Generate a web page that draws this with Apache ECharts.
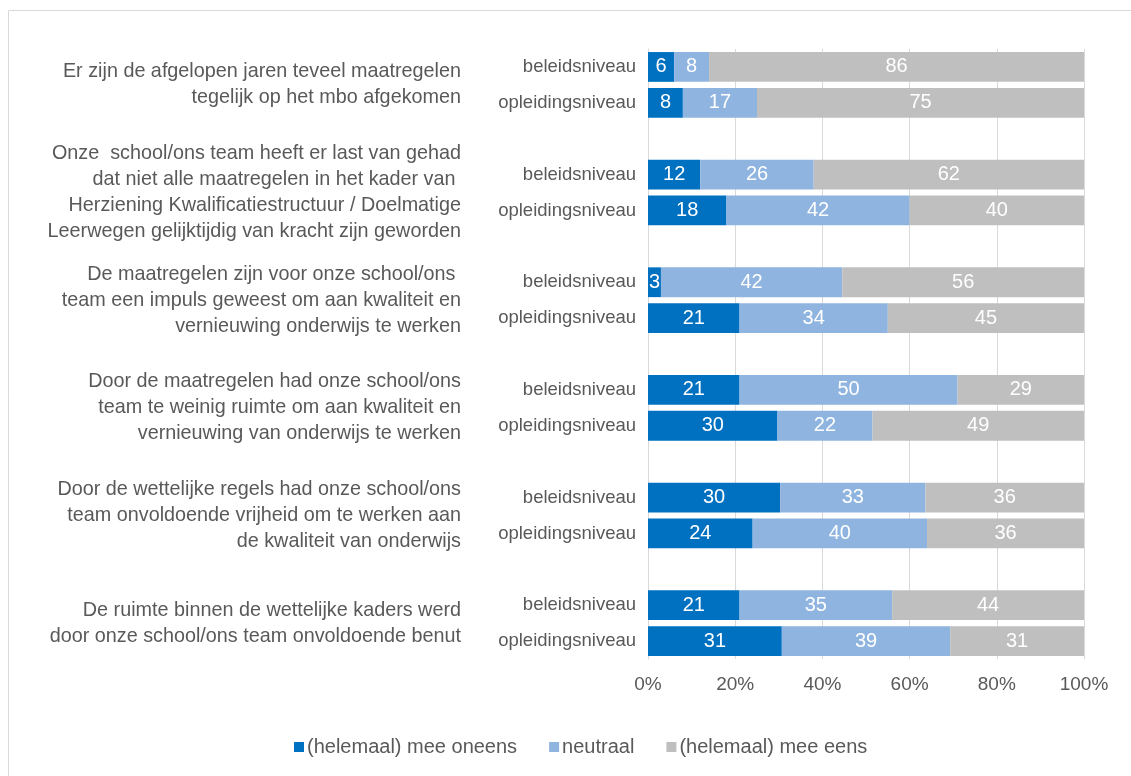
<!DOCTYPE html>
<html>
<head>
<meta charset="utf-8">
<script src="https://cdn.jsdelivr.net/npm/echarts@6/dist/echarts.min.js"></script>
<style>
  html, body { margin: 0; padding: 0; background: #fff; }
  #chart { width: 1131px; height: 776px; }
</style>
</head>
<body>
<div id="chart"></div>
<script>
// stellingen (groepen), per groep twee niveaus
const groupLabels = [
  'Er zijn de afgelopen jaren teveel maatregelen\ntegelijk op het mbo afgekomen',
  'Onze  school/ons team heeft er last van gehad\ndat niet alle maatregelen in het kader van \nHerziening Kwalificatiestructuur / Doelmatige\nLeerwegen gelijktijdig van kracht zijn geworden',
  'De maatregelen zijn voor onze school/ons \nteam een impuls geweest om aan kwaliteit en\nvernieuwing onderwijs te werken',
  'Door de maatregelen had onze school/ons\nteam te weinig ruimte om aan kwaliteit en\nvernieuwing van onderwijs te werken',
  'Door de wettelijke regels had onze school/ons\nteam onvoldoende vrijheid om te werken aan\nde kwaliteit van onderwijs',
  'De ruimte binnen de wettelijke kaders werd\ndoor onze school/ons team onvoldoende benut'
]
const levels = ['beleidsniveau', 'opleidingsniveau']
const seriesNames = ['(helemaal) mee oneens', 'neutraal', '(helemaal) mee eens']

// waarden per balk: groep1 beleid, groep1 opleiding, groep2 beleid, ...
const oneens = [6, 8, 12, 18, 3, 21, 21, 30, 30, 24, 21, 31]
const neutraal = [8, 17, 26, 42, 42, 34, 50, 22, 33, 40, 35, 39]
const eens = [86, 75, 62, 40, 56, 45, 29, 49, 36, 36, 44, 31]

const xTicks = [0, 20, 40, 60, 80, 100]

// categorieen met een lege rij tussen de groepen
const categories = []
const slotOf = []
groupLabels.forEach((g, gi) => {
  levels.forEach((l) => {
    slotOf.push(categories.length)
    categories.push(l)
  })
  if (gi < groupLabels.length - 1) categories.push('')
})
// 100% gestapeld: elke balk schalen naar zijn totaal, label toont het getal
const totals = oneens.map((v, i) => v + neutraal[i] + eens[i])
function withGaps(values) {
  const arr = categories.map(() => '-')
  values.forEach((v, i) => {
    arr[slotOf[i]] = { value: v / totals[i] * 100, raw: v }
  })
  return arr
}
const groupCentres = groupLabels.map((g, gi) => gi * 3 + 0.5)

const textColor = '#595959'
const colors = ['#0070C0', '#8FB4E0', '#BFBFBF']
const font = 'Liberation Sans'

const option = {
  animation: false,
  textStyle: { fontFamily: font },
  graphic: [
    {
      type: 'rect',
      shape: { x: 8.5, y: 10.5, width: 1300, height: 900 },
      style: { fill: 'none', stroke: '#D9D9D9', lineWidth: 1 },
      silent: true
    }
  ],
  grid: {
    left: 648,
    right: 47,
    top: 49,
    bottom: 117
  },
  legend: {
    left: 289,
    top: 732,
    itemWidth: 10,
    itemHeight: 10,
    itemGap: 32,
    icon: 'rect',
    textStyle: { color: textColor, fontSize: 20, fontFamily: font, padding: [0, 0, 0, -2] },
    data: seriesNames
  },
  xAxis: {
    type: 'value',
    min: 0,
    max: 100,
    interval: 20,
    axisLine: { show: false },
    axisTick: { show: false },
    splitLine: { lineStyle: { color: '#D9D9D9' } },
    axisLabel: {
      color: textColor,
      fontSize: 19,
      margin: 16,
      formatter: (v) => xTicks.includes(v) ? v + '%' : ''
    }
  },
  yAxis: [
    {
      type: 'category',
      inverse: true,
      data: categories,
      axisLine: { show: true, lineStyle: { color: '#D9D9D9' } },
      axisTick: { show: false },
      axisLabel: {
        interval: 0,
        color: textColor,
        fontSize: 18.5,
        margin: 12
      }
    },
    {
      type: 'value',
      inverse: true,
      position: 'left',
      min: -0.5,
      max: categories.length - 0.5,
      offset: 179,
      axisLine: { show: false },
      axisTick: { show: false },
      splitLine: { show: false },
      axisLabel: {
        customValues: groupCentres,
        color: textColor,
        fontSize: 19.8,
        lineHeight: 26,
        align: 'right',
        formatter: (v) => groupLabels[Math.round((v - 0.5) / 3)] || ''
      }
    }
  ],
  series: [oneens, neutraal, eens].map((vals, i) => ({
    name: seriesNames[i],
    type: 'bar',
    stack: 'totaal',
    yAxisIndex: 0,
    barWidth: '83%',
    itemStyle: { color: colors[i] },
    label: {
      show: true,
      position: 'inside',
      color: '#fff',
      fontSize: 20,
      fontFamily: font,
      formatter: (p) => p.data.raw
    },
    data: withGaps(vals)
  }))
}

const myChart = echarts.init(document.getElementById('chart'))
myChart.setOption(option)
</script>
</body>
</html>
